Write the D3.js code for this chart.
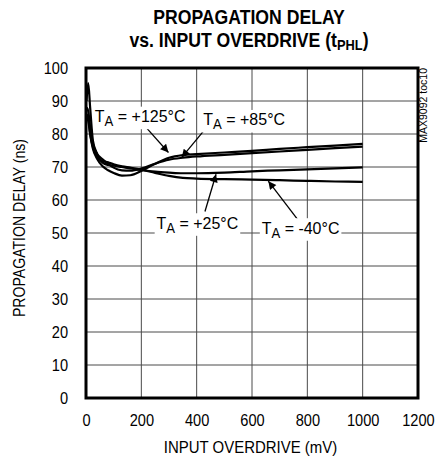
<!DOCTYPE html>
<html><head><meta charset="utf-8">
<script src="https://cdn.jsdelivr.net/npm/d3@7"></script>
<style>body{margin:0;background:#fff}svg{display:block}text{font-family:"Liberation Sans",Arial,sans-serif;fill:#000}</style>
</head><body><svg id="c" width="437" height="462"></svg>
<script>
const overdrive = [2, 8, 15, 25, 40, 60, 80, 100, 130, 160, 200, 250, 300, 350, 400, 500, 600, 700, 800, 900, 1000];
const t125 = [86, 85, 80, 75.5, 72.5, 70.2, 69, 68.2, 67.4, 67.5, 68.8, 71, 72.8, 73.6, 73.9, 74.4, 74.9, 75.5, 76, 76.5, 77];
const t85  = [88, 87, 82, 77, 74, 72.3, 71, 69.8, 69, 68.9, 69.5, 71, 72.2, 72.8, 73.2, 73.7, 74.2, 74.7, 75.2, 75.7, 76.2];
const t25  = [90, 95.4, 88, 78, 74, 71.3, 70.6, 70.4, 70, 69.6, 69.1, 68.6, 68.3, 68.1, 68.1, 68.3, 68.7, 69, 69.3, 69.6, 69.9];
const tm40 = [85, 84, 80, 76, 73, 71.8, 71.4, 70.8, 70.2, 69.8, 69.2, 68.2, 67.3, 66.7, 66.5, 66.3, 66.2, 66, 65.8, 65.6, 65.5];
const seriesNames = ["+125°C", "+85°C", "+25°C", "-40°C"];
const seriesValues = [t125, t85, t25, tm40];
const xTicks = [0, 200, 400, 600, 800, 1000, 1200];
const yTicks = [0, 10, 20, 30, 40, 50, 60, 70, 80, 90, 100];
// annotation: label start (mV, ns) and arrow from/to (mV, ns)
const labelPos = [[32, 83.6], [424, 82.6], [255, 51.3], [635, 49.8]];
const arrowFrom = [[217, 82.0], [436, 82.0], [430, 56.5], [764, 54.2]];
const arrowTo = [[298, 74.4], [346, 72.9], [470, 67.8], [659, 65.7]];

const svg = d3.select("#c");
const L = 86, R = 418, T = 68, B = 398;
const x = d3.scaleLinear().domain([0, 1200]).range([L, R]);
const y = d3.scaleLinear().domain([0, 100]).range([B, T]);
const SX = 0.86;

svg.append("rect").attr("width", 437).attr("height", 462).attr("fill", "#fff");

// grid
svg.append("g").selectAll("line").data(xTicks.slice(1, -1)).join("line")
  .attr("x1", d => x(d)).attr("x2", d => x(d)).attr("y1", T).attr("y2", B)
  .attr("stroke", "#4a4a4a").attr("stroke-width", 1);
svg.append("g").selectAll("line").data(yTicks.slice(1, -1)).join("line")
  .attr("y1", d => y(d)).attr("y2", d => y(d)).attr("x1", L).attr("x2", R)
  .attr("stroke", "#4a4a4a").attr("stroke-width", 1);

// axes tick labels (condensed)
const xa = svg.append("g").attr("transform", `translate(0,${B})`)
  .call(d3.axisBottom(x).tickValues(xTicks).tickSize(0).tickPadding(16).tickFormat(d3.format("d")));
xa.select(".domain").remove();
xa.selectAll("text").attr("font-size", 17).attr("font-family", "Liberation Sans, Arial, sans-serif")
  .attr("transform", `scale(${SX},1)`);
const ya = svg.append("g").attr("transform", `translate(${L},0)`)
  .call(d3.axisLeft(y).tickValues(yTicks).tickSize(0).tickPadding(18 / SX).tickFormat(d3.format("d")));
ya.select(".domain").remove();
ya.selectAll("text").attr("font-size", 17).attr("font-family", "Liberation Sans, Arial, sans-serif")
  .attr("transform", `scale(${SX},1)`);

// curves
const line = d3.line().x((d, i) => x(overdrive[i])).y(d => y(d)).curve(d3.curveMonotoneX);
svg.append("g").selectAll("path").data(seriesValues).join("path")
  .attr("d", d => line(d)).attr("fill", "none").attr("stroke", "#000").attr("stroke-width", 2.2)
  .attr("stroke-linejoin", "round");

// arrows
const defs = svg.append("defs");
defs.append("marker").attr("id", "ah").attr("viewBox", "0 0 10 10").attr("refX", 10).attr("refY", 5)
  .attr("markerWidth", 12).attr("markerHeight", 8).attr("markerUnits", "userSpaceOnUse").attr("orient", "auto")
  .append("path").attr("d", "M0,0 L10,5 L0,10 Z").attr("fill", "#000");
svg.append("g").selectAll("line").data(arrowFrom).join("line")
  .attr("x1", d => x(d[0])).attr("y1", d => y(d[1]))
  .attr("x2", (d, i) => x(arrowTo[i][0])).attr("y2", (d, i) => y(arrowTo[i][1]))
  .attr("stroke", "#000").attr("stroke-width", 1.3).attr("marker-end", "url(#ah)");

// labels with white background
const lg = svg.append("g");
seriesNames.forEach((n, i) => {
  const g = lg.append("g").attr("transform", `translate(${x(labelPos[i][0])},${y(labelPos[i][1])}) scale(0.94,1)`);
  const t = g.append("text").attr("font-size", 17);
  t.append("tspan").text("T");
  t.append("tspan").attr("font-size", 14).attr("dy", 4).text("A");
  t.append("tspan").attr("dy", -4).text(" = " + n);
  const b = t.node().getBBox();
  g.insert("rect", "text").attr("x", b.x - 2).attr("y", b.y).attr("width", b.width + 4).attr("height", b.height)
    .attr("fill", "#fff");
});

// frame
svg.append("rect").attr("x", L).attr("y", T).attr("width", R - L).attr("height", B - T)
  .attr("fill", "none").attr("stroke", "#000").attr("stroke-width", 3);

// titles
const tg = svg.append("g").attr("transform", "translate(249,0) scale(0.86,1)");
tg.append("text").attr("y", 24).attr("text-anchor", "middle").attr("font-weight", "bold").attr("font-size", 20.5)
  .text("PROPAGATION DELAY");
const t2 = tg.append("text").attr("y", 47.5).attr("text-anchor", "middle").attr("font-weight", "bold").attr("font-size", 20.5);
t2.append("tspan").text("vs. INPUT OVERDRIVE (t");
t2.append("tspan").attr("font-size", 15).attr("dy", 3).text("PHL");
t2.append("tspan").attr("dy", -3).text(")");

svg.append("g").attr("transform", "translate(250.5,453) scale(0.88,1)")
  .append("text").attr("text-anchor", "middle").attr("font-size", 17).text("INPUT OVERDRIVE (mV)");
svg.append("g").attr("transform", "translate(25,228) rotate(-90) scale(0.88,1)")
  .append("text").attr("text-anchor", "middle").attr("font-size", 16).text("PROPAGATION DELAY (ns)");
svg.append("text").attr("transform", "translate(427,68) rotate(-90)").attr("text-anchor", "end")
  .attr("font-size", 10.5).text("MAX9092 toc10");
</script></body></html>
